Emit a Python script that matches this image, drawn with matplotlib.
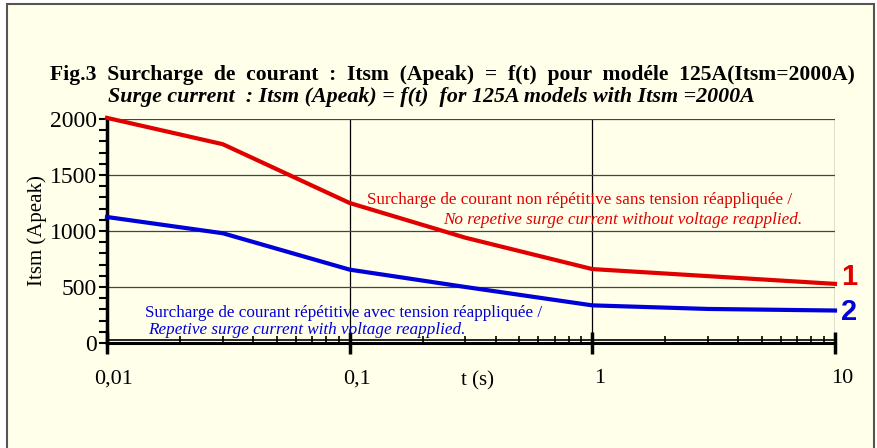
import numpy as np
import matplotlib
matplotlib.use("Agg")
import matplotlib.pyplot as plt
import matplotlib.transforms as mtransforms
from matplotlib.patches import Rectangle
from matplotlib.ticker import FixedLocator, NullFormatter

# %% data
t_red = [0.01, 0.03, 0.1, 0.3, 1, 10]
itsm_red = [2010, 1775, 1250, 940, 660, 528]
t_blue = [0.01, 0.03, 0.1, 0.3, 1, 3, 10]
itsm_blue = [1125, 980, 655, 500, 336, 304, 290]

x_ticks = [0.01, 0.1, 1, 10]
x_labels = ["0,01", "0,1", "1", "10"]
y_ticks = [0, 500, 1000, 1500, 2000]

RED = "#E00000"
BLUE = "#0000D8"
BG = "#FFFFEA"
SERIF = "Liberation Serif"

# %% figure
fig = plt.figure(figsize=(8.78, 4.48), dpi=100, facecolor="white")
fig.patches.append(Rectangle((7 / 878, -0.1), 867 / 878, 1.1 - 4 / 448,
                             transform=fig.transFigure, facecolor=BG,
                             edgecolor="#555555", linewidth=1.5, zorder=0))

ax = fig.add_axes([107 / 878, 1 - 343 / 448, (835 - 107) / 878, (343 - 119) / 448])
ax.set_zorder(2)
ax.set_facecolor(BG)
ax.set_xscale("log")
ax.set_xlim(0.01, 10)
ax.set_ylim(0, 2000)

# grid
for xv in [0.1, 1, 10]:
    ax.axvline(xv, color="black", linewidth=0.9, zorder=1)
for yv in [500, 1000, 1500, 2000]:
    ax.axhline(yv, color="#444444", linewidth=0.9, zorder=1)
ax.axhline(28, color="black", linewidth=1.2, zorder=2)

ax.plot(t_red, itsm_red, color=RED, linewidth=3, zorder=3, clip_on=False)
ax.plot(t_blue, itsm_blue, color=BLUE, linewidth=3, zorder=3, clip_on=False)

# spines
for s in ["top", "right"]:
    ax.spines[s].set_visible(False)
ax.spines["left"].set_linewidth(2.5)
ax.spines["bottom"].set_linewidth(2.2)

# ticks
ax.xaxis.set_major_locator(FixedLocator(x_ticks))
ax.set_xticklabels(x_labels, fontfamily=SERIF, fontsize=16)
minors = [m * 10.0 ** e for e in [-2, -1, 0] for m in range(2, 10)]
ax.xaxis.set_minor_locator(FixedLocator(minors))
ax.xaxis.set_minor_formatter(NullFormatter())
ax.tick_params(axis="x", which="major", direction="inout", length=16, width=2.5, pad=11)
ax.tick_params(axis="x", which="minor", direction="in", length=5, width=1.2)
shift = mtransforms.ScaledTranslation(0.07, 0, fig.dpi_scale_trans)
for lbl in ax.get_xticklabels():
    lbl.set_transform(lbl.get_transform() + shift)

ax.set_yticks(y_ticks)
ax.set_yticklabels([str(v) for v in y_ticks], fontfamily=SERIF, fontsize=17)
ax.yaxis.set_minor_locator(FixedLocator(np.arange(100, 2000, 100)))
ax.tick_params(axis="y", which="major", direction="out", length=6, width=1.5, pad=1)
ax.tick_params(axis="y", which="minor", direction="out", length=6, width=1.5)

ax.set_ylabel("Itsm (Apeak)", fontfamily=SERIF, fontsize=15, labelpad=2)
ax.text(0.288, -0.17, "t (s)", transform=ax.get_xaxis_transform(),
        fontfamily=SERIF, fontsize=15, ha="left", va="center")

# annotations
ax.text(0.1178, 1276, "Surcharge de courant non répétitive sans tension réappliquée /",
        color=RED, fontfamily=SERIF, fontsize=12.3, ha="left", va="center", zorder=4)
ax.text(7.31, 1098, "No repetive surge current without voltage reapplied.",
        color=RED, fontfamily=SERIF, fontsize=12.3, style="italic", ha="right", va="center", zorder=4)
ax.text(0.01435, 268, "Surcharge de courant répétitive avec tension réappliquée /",
        color=BLUE, fontfamily=SERIF, fontsize=12.3, ha="left", va="center", zorder=4)
ax.text(0.01476, 116, "Repetive surge current with voltage reapplied.",
        color=BLUE, fontfamily=SERIF, fontsize=12.3, style="italic", ha="left", va="center", zorder=4)

ax.text(10.6, 590, "1", color=RED, fontfamily="Liberation Sans", fontsize=21,
        fontweight="bold", ha="left", va="center", clip_on=False)
ax.text(10.6, 280, "2", color=BLUE, fontfamily="Liberation Sans", fontsize=21,
        fontweight="bold", ha="left", va="center", clip_on=False)

# titles
fig.text(50 / 878, 1 - 75 / 448,
         "Fig.3  Surcharge  de  courant  :  Itsm  (Apeak)  =  f(t)  pour  modéle  125A(Itsm=2000A)",
         fontfamily=SERIF, fontsize=15.6, fontweight="bold", ha="left", va="center")
fig.text(108 / 878, 1 - 97 / 448,
         "Surge current  : Itsm (Apeak) = f(t)  for 125A models with Itsm =2000A",
         fontfamily=SERIF, fontsize=15.8, fontweight="bold", style="italic",
         ha="left", va="center")

fig.savefig("out.png", dpi=100, facecolor=fig.get_facecolor())
